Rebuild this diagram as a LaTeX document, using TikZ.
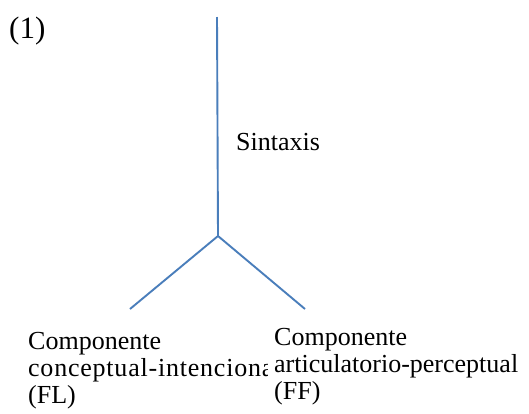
\documentclass[tikz,border=0pt]{standalone}
\usepackage{fontspec}
\setmainfont{Liberation Serif}
\begin{document}
\begin{tikzpicture}[x=1pt,y=-1pt,
  branch/.style={draw=blueline, line width=1.9pt},
  lbl/.style={inner sep=0pt, anchor=base west, align=left, font=\fontsize{26}{27}\selectfont}]
\definecolor{blueline}{HTML}{4A7EBB}
\useasboundingbox[fill=white] (0,0) rectangle (529,413);
\coordinate (top) at (217,17);
\coordinate (junc) at (218,236);
\coordinate (lend) at (130,309);
\coordinate (rend) at (305,309);
\draw[branch] (top) -- (junc);
\draw[branch] (junc) -- (lend);
\draw[branch] (junc) -- (rend);
\node[lbl, font=\fontsize{31}{33}\selectfont] (num) at (9,38) {(1)};
\node[lbl] (syn) at (236,150) {Sintaxis};
\begin{scope}
\clip (0,0) rectangle (267,413);
\node[lbl] (fl) at (28,403) {Componente\\{\addfontfeature{LetterSpace=3}conceptual-intencional}\\(FL)};
\end{scope}
\node[lbl] (ff) at (274,399) {Componente\\articulatorio-perceptual\\(FF)};
\end{tikzpicture}
\end{document}
